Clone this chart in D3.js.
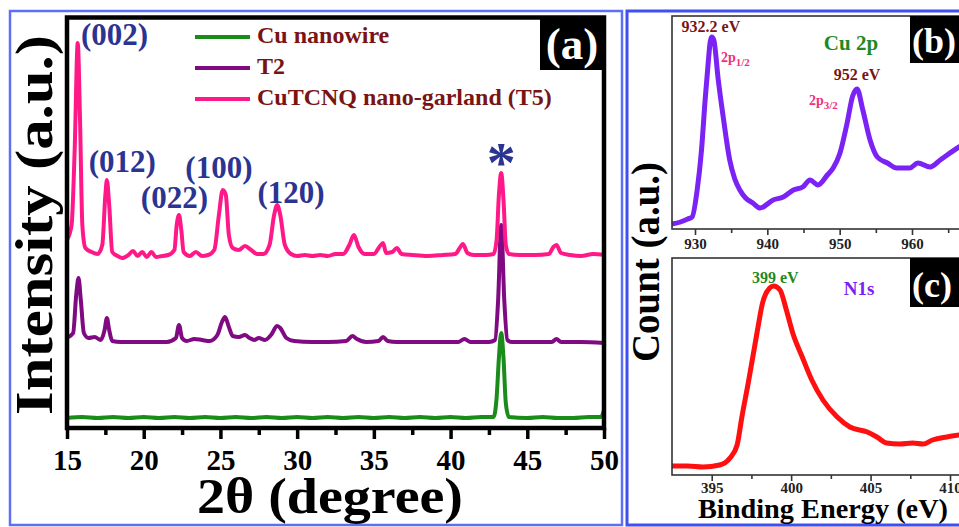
<!DOCTYPE html>
<html>
<head>
<meta charset="utf-8">
<script src="https://cdn.jsdelivr.net/npm/d3@7"></script>
<style>
  body { margin: 0; background: #fff; }
  svg { display: block; overflow: hidden; }
  text { font-family: "Liberation Serif", "Times New Roman", serif; font-weight: bold; }
</style>
</head>
<body>
<svg id="fig" width="959" height="527"></svg>
<script>
// ---- panel (a) XRD data: [2theta, intensity a.u.] ----
const cuNanowire = [[15,10],[16,11],[17,10],[18,11],[19,10],[20,11],[21,10],[22,11],[23,10],[24,11],[25,10],[26,11],[27,10],
  [28,11],[29,10],[30,11],[31,10],[32,11],[33,10],[34,11],[35,10],[36,11],[37,10],[38,11],[39,10],[40,11],[41,10],[42,11],
  [42.8,11],[43.0,30],[43.15,70],[43.3,95],[43.45,70],[43.6,25],[43.8,11],[45,10],[46,11],[47,10],[48,10],[49,11],[49.8,11],[50,18]];
const t2 = [[15,90],[15.4,95],[15.6,133],[15.75,150],[15.9,128],[16.1,95],[16.4,90],[16.8,91],[17.2,88],[17.45,98],[17.6,110],
  [17.75,98],[17.95,87],[18.5,86],[19.5,86],[20.5,86],[21.5,86],[22.1,90],[22.3,103],[22.5,90],[22.8,87],[23.3,89],[23.8,88],
  [24.3,87],[24.8,93],[25.1,106],[25.3,111],[25.55,101],[25.8,92],[26.2,91],[26.6,93],[26.9,90],[27.2,88],[27.5,90],[27.9,88],
  [28.3,93],[28.7,102],[28.9,100],[29.3,90],[29.8,87],[31,86],[32,86],[33.2,87],[33.6,92],[33.9,89],[34.5,86],[35.3,87],
  [35.6,91],[35.9,87],[36.5,86],[38,86],[40.5,86],[40.9,89],[41.3,86],[42.5,86],[42.9,88],[43.1,128],[43.3,203],[43.5,128],
  [43.7,88],[44,86],[46.6,86],[46.9,89],[47.2,86],[48.5,86],[50,85]];
const t5 = [[15,188],[15.3,203],[15.5,278],[15.7,385],[15.85,308],[16,203],[16.2,180],[16.6,176],[17,174],[17.3,183],[17.5,233],
  [17.6,248],[17.75,223],[17.95,176],[18.3,172],[18.6,170],[19,173],[19.3,177],[19.6,172],[19.9,176],[20.2,171],[20.5,176],
  [20.8,171],[21.2,172],[21.6,173],[22,178],[22.15,203],[22.3,213],[22.45,198],[22.6,176],[23,172],[23.4,176],[23.8,172],
  [24.2,173],[24.6,178],[24.9,213],[25.15,238],[25.35,233],[25.55,193],[25.8,180],[26.2,178],[26.6,182],[27,178],[27.4,174],
  [27.8,174],[28.2,183],[28.5,213],[28.7,223],[28.9,213],[29.2,183],[29.6,174],[30,172],[30.5,173],[31,172],[31.5,173],
  [32,172],[32.5,174],[33,174],[33.4,183],[33.7,193],[34,181],[34.4,174],[35,174],[35.4,182],[35.6,185],[35.8,175],[36.2,176],
  [36.5,180],[36.8,174],[37.5,173],[38.5,172],[39.5,173],[40.3,174],[40.6,180],[40.8,184],[41.1,175],[41.5,173],[42.3,173],
  [42.8,174],[43,188],[43.15,233],[43.3,255],[43.45,228],[43.6,183],[43.8,174],[44.5,173],[45.5,173],[46.4,174],[46.7,181],
  [46.9,183],[47.2,175],[47.8,173],[48.5,172],[49.3,174],[50,173]];
const seriesNames = ["Cu nanowire", "T2", "CuTCNQ nano-garland (T5)"];
const seriesColors = ["#1a8c1a", "#800a82", "#ff1988"];
const xTicksA = [15, 20, 25, 30, 35, 40, 45, 50];
const xMinorA = [17.5, 22.5, 27.5, 32.5, 37.5, 42.5, 47.5];
// peak labels: [label, 2theta, intensity]
const peakLabels = [["(002)", 18.1, 383], ["(012)", 18.6, 256], ["(022)", 22.0, 220], ["(100)", 24.9, 250], ["(120)", 29.6, 225]];

// ---- panel (b) Cu 2p XPS: [binding energy eV, counts a.u.] ----
const cu2p = [[926.8,5],[928,7],[929,10],[929.6,12],[930.3,39],[930.9,79],[931.4,129],[931.8,164],[932.1,187],[932.3,192],
  [932.6,189],[933.2,150],[933.9,112],[934.8,69],[935.5,50],[936.2,39],[937,31],[938,26],[939,21],[940.8,29],[942.2,32],
  [943.6,39],[944.9,42],[945.9,49],[947,44],[948.3,54],[949.1,61],[950,75],[951,105],[951.8,133],[952.4,140],[953.2,119],
  [954.2,89],[955.2,72],[956.6,66],[957.9,61],[959.7,61],[960.8,66],[962.5,62],[963.9,69],[966.5,82],[968,88]];
const xTicksB = [930, 940, 950, 960, 970];
const xMinorB = [935, 945, 955, 965];

// ---- panel (c) N1s XPS ----
const n1s = [[392.5,9],[393.5,9],[394.45,8],[395.5,10],[396.15,17],[396.6,30],[396.9,58],[397.3,92],[397.85,142],[398.2,172],
  [398.65,187],[398.9,189],[399.3,185],[399.7,165],[400.1,142],[400.7,118],[401.3,95],[402,75],[402.9,58],[403.7,48],
  [404.8,43],[405.4,38],[406,32],[406.85,31],[407.65,32],[408.3,31],[408.9,35],[409.8,38],[410.6,40]];
const xTicksC = [395, 400, 405, 410];
const xMinorC = [397.5, 402.5, 407.5];

const svg = d3.select("#fig");

// panel borders
svg.append("rect").attr("x", 10).attr("y", 11).attr("width", 612).attr("height", 514)
  .attr("fill", "none").attr("stroke", "#5f6ff2").attr("stroke-width", 2.5);
svg.append("rect").attr("x", 627).attr("y", 11).attr("width", 400).attr("height", 514)
  .attr("fill", "none").attr("stroke", "#3f4ff5").attr("stroke-width", 3);

// ================= panel (a) =================
const xA = d3.scaleLinear().domain([15, 50]).range([67, 604]);
const yA = d3.scaleLinear().domain([0, 411]).range([428, 17]);
const gA = svg.append("g");

const lineA = d3.line().x(d => xA(d[0])).y(d => yA(d[1])).curve(d3.curveMonotoneX);
[cuNanowire, t2, t5].forEach((s, i) => {
  gA.append("path").datum(s).attr("d", lineA)
    .attr("fill", "none").attr("stroke", seriesColors[i]).attr("stroke-width", 4)
    .attr("stroke-linejoin", "round");
});

// frame
gA.append("rect").attr("x", 67).attr("y", 17.5).attr("width", 537).attr("height", 410.5)
  .attr("fill", "none").attr("stroke", "#000").attr("stroke-width", 4.5);

const axA = gA.append("g").attr("transform", "translate(0,428)")
  .call(d3.axisBottom(xA).tickValues(xTicksA).tickSize(11).tickSizeOuter(0));
axA.select(".domain").remove();
axA.selectAll("line").attr("stroke", "#000").attr("stroke-width", 3.5);
axA.selectAll("text").attr("y", 42).attr("dy", 0).attr("fill", "#000")
  .style("font-size", "29px").style("font-family", "Liberation Serif").style("font-weight", "bold");
const axAm = gA.append("g").attr("transform", "translate(0,428)")
  .call(d3.axisBottom(xA).tickValues(xMinorA).tickSize(7).tickFormat(""));
axAm.select(".domain").remove();
axAm.selectAll("line").attr("stroke", "#000").attr("stroke-width", 3.5);

// (a) badge
gA.append("rect").attr("x", 540).attr("y", 17).attr("width", 65).attr("height", 53).attr("fill", "#000");
gA.append("text").attr("x", 572).attr("y", 59).attr("text-anchor", "middle")
  .attr("fill", "#fff").style("font-size", "45px").text("(a)");

// legend
seriesNames.forEach((n, i) => {
  const y = 37 + i * 31;
  gA.append("line").attr("x1", 195).attr("x2", 250).attr("y1", y).attr("y2", y)
    .attr("stroke", seriesColors[i]).attr("stroke-width", 4);
  gA.append("text").attr("x", 257).attr("y", y + 6).attr("fill", "#7a1414")
    .style("font-size", "24px").text(n);
});

// peak labels
peakLabels.forEach(p => {
  gA.append("text").attr("x", xA(p[1])).attr("y", yA(p[2])).attr("text-anchor", "middle")
    .attr("fill", "#2b3490").style("font-size", "31px").text(p[0]);
});
gA.append("text").attr("x", xA(43.3)).attr("y", 182).attr("text-anchor", "middle")
  .attr("fill", "#2b3490").style("font-size", "58px").text("*");

// y title
gA.append("text").attr("transform", "translate(52,225) rotate(-90)").attr("text-anchor", "middle")
  .attr("fill", "#000").style("font-size", "52px").attr("textLength", 380).attr("lengthAdjust", "spacingAndGlyphs")
  .text("Intensity (a.u.)");
// x title
gA.append("text").attr("x", 330).attr("y", 513).attr("text-anchor", "middle")
  .attr("fill", "#000").style("font-size", "50px").attr("textLength", 266).attr("lengthAdjust", "spacingAndGlyphs")
  .text("2θ (degree)");

// ================= panel (b) =================
const xB = d3.scaleLinear().domain([930, 960]).range([695, 912]);
const yB = d3.scaleLinear().domain([0, 213]).range([229, 16]);
const gB = svg.append("g");
gB.append("path").datum(cu2p)
  .attr("d", d3.line().x(d => xB(d[0])).y(d => yB(d[1])).curve(d3.curveMonotoneX))
  .attr("fill", "none").attr("stroke", "#7b22f5").attr("stroke-width", 5).attr("stroke-linejoin", "round");
gB.append("rect").attr("x", 672).attr("y", 16).attr("width", 400).attr("height", 213)
  .attr("fill", "none").attr("stroke", "#333").attr("stroke-width", 1.6);
const axB = gB.append("g").attr("transform", "translate(0,229)")
  .call(d3.axisBottom(xB).tickValues(xTicksB).tickSize(6).tickSizeOuter(0));
axB.select(".domain").remove();
axB.selectAll("line").attr("stroke", "#333").attr("stroke-width", 1.6);
axB.selectAll("text").attr("y", 20).attr("dy", 0).attr("fill", "#222")
  .style("font-size", "15px").style("font-family", "Liberation Serif").style("font-weight", "bold");
const axBm = gB.append("g").attr("transform", "translate(0,229)")
  .call(d3.axisBottom(xB).tickValues(xMinorB).tickSize(4).tickFormat(""));
axBm.select(".domain").remove();
axBm.selectAll("line").attr("stroke", "#333").attr("stroke-width", 1.6);

gB.append("rect").attr("x", 910).attr("y", 16).attr("width", 100).attr("height", 47).attr("fill", "#000");
gB.append("text").attr("x", 912).attr("y", 53).attr("fill", "#fff").style("font-size", "36px").text("(b)");

gB.append("text").attr("x", xB(932.2)).attr("y", 32).attr("text-anchor", "middle")
  .attr("fill", "#7a1414").style("font-size", "16px").text("932.2 eV");
gB.append("text").attr("x", xB(952.4)).attr("y", 80).attr("text-anchor", "middle")
  .attr("fill", "#7a1414").style("font-size", "16px").text("952 eV");
gB.append("text").attr("x", 851).attr("y", 50).attr("text-anchor", "middle")
  .attr("fill", "#1f8a1f").style("font-size", "21px").text("Cu 2p");
function orbital(x, y, sub) {
  const t = gB.append("text").attr("x", x).attr("y", y).attr("fill", "#f0307f").style("font-size", "14px");
  t.append("tspan").text("2p");
  t.append("tspan").attr("dy", 4).style("font-size", "11px").text(sub);
}
orbital(721, 62, "1/2");
orbital(809, 105, "3/2");

// ================= panel (c) =================
const xC = d3.scaleLinear().domain([395, 410]).range([711.7, 950]);
const yC = d3.scaleLinear().domain([0, 217]).range([475, 258]);
const gC = svg.append("g");
gC.append("path").datum(n1s)
  .attr("d", d3.line().x(d => xC(d[0])).y(d => yC(d[1])).curve(d3.curveMonotoneX))
  .attr("fill", "none").attr("stroke", "#ff1010").attr("stroke-width", 5).attr("stroke-linejoin", "round");
gC.append("rect").attr("x", 672).attr("y", 258).attr("width", 400).attr("height", 217)
  .attr("fill", "none").attr("stroke", "#333").attr("stroke-width", 1.6);
const axC = gC.append("g").attr("transform", "translate(0,475)")
  .call(d3.axisBottom(xC).tickValues(xTicksC).tickSize(6).tickSizeOuter(0));
axC.select(".domain").remove();
axC.selectAll("line").attr("stroke", "#333").attr("stroke-width", 1.6);
axC.selectAll("text").attr("y", 18).attr("dy", 0).attr("fill", "#222")
  .style("font-size", "15px").style("font-family", "Liberation Serif").style("font-weight", "bold");
const axCm = gC.append("g").attr("transform", "translate(0,475)")
  .call(d3.axisBottom(xC).tickValues(xMinorC).tickSize(4).tickFormat(""));
axCm.select(".domain").remove();
axCm.selectAll("line").attr("stroke", "#333").attr("stroke-width", 1.6);

gC.append("rect").attr("x", 910).attr("y", 258).attr("width", 100).attr("height", 49).attr("fill", "#000");
gC.append("text").attr("x", 912).attr("y", 297).attr("fill", "#fff").style("font-size", "36px").text("(c)");
gC.append("text").attr("x", xC(399)).attr("y", 283).attr("text-anchor", "middle")
  .attr("fill", "#1f8a1f").style("font-size", "16px").text("399 eV");
gC.append("text").attr("x", 859).attr("y", 295).attr("text-anchor", "middle")
  .attr("fill", "#7a22f0").style("font-size", "19px").text("N1s");
gC.append("text").attr("x", 823).attr("y", 518).attr("text-anchor", "middle")
  .attr("fill", "#000").style("font-size", "27px").attr("textLength", 250).attr("lengthAdjust", "spacingAndGlyphs")
  .text("Binding Energy (eV)");

// shared y title for (b),(c)
svg.append("text").attr("transform", "translate(659,262) rotate(-90)").attr("text-anchor", "middle")
  .attr("fill", "#000").style("font-size", "40px").attr("textLength", 200).attr("lengthAdjust", "spacingAndGlyphs")
  .text("Count (a.u.)");
</script>
</body>
</html>
